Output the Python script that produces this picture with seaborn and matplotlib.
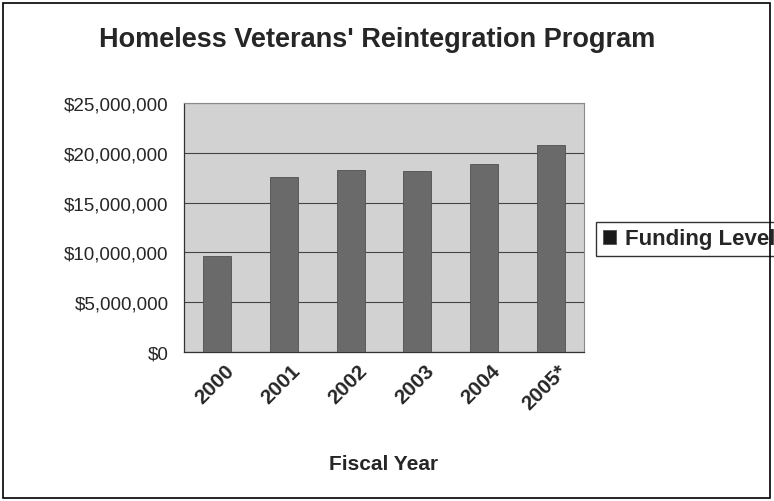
import numpy as np
import pandas as pd
import matplotlib
matplotlib.use("Agg")
import matplotlib.pyplot as plt
import matplotlib.ticker as mticker
import matplotlib.transforms as mtransforms
from matplotlib.patches import Rectangle
import seaborn as sns

sns.set_style("white")
plt.rcParams['font.family'] = ['Liberation Sans', 'DejaVu Sans']

# data
years = ['2000', '2001', '2002', '2003', '2004', '2005*']
funding = [9600000, 17600000, 18300000, 18200000, 18900000, 20800000]
df = pd.DataFrame({'year': years, 'funding': funding})

fig = plt.figure(figsize=(7.74, 5.02), dpi=100)
ax = fig.add_axes([184/774, 1-353/502, 400/774, 249/502])

sns.barplot(data=df, x='year', y='funding', color='#6a6a6a', width=0.42,
            saturation=1, edgecolor='#505050', linewidth=0.6, ax=ax,
            label='Funding Level', zorder=3)

ax.set_facecolor('#d2d2d2')
ax.set_ylim(0, 25000000)
ax.set_xlim(-0.5, len(years) - 0.5)
ax.yaxis.set_major_locator(mticker.MultipleLocator(5000000))
ax.yaxis.set_major_formatter(mticker.FuncFormatter(lambda v, p: '${:,.0f}'.format(v)))
ax.grid(axis='y', color='#444444', linewidth=0.8, zorder=1)
ax.set_axisbelow(True)

for s in ['top', 'right']:
    ax.spines[s].set_color('#8a8a8a')
    ax.spines[s].set_linewidth(0.8)
for s in ['left', 'bottom']:
    ax.spines[s].set_color('#333333')
    ax.spines[s].set_linewidth(0.9)

ax.tick_params(axis='y', which='major', direction='out', length=5, width=0.8,
               color='#333333', labelsize=13.5, pad=6)
# category ticks sit between bars, like the original
ax.set_xticks(np.arange(len(years)))
ax.set_xticklabels(years, rotation=45, ha='right', rotation_mode='anchor',
                   fontsize=15, fontweight='bold')
ax.tick_params(axis='x', which='major', length=0, pad=6)
shift = mtransforms.ScaledTranslation(7/100, 0, fig.dpi_scale_trans)
for lab in ax.get_xticklabels():
    lab.set_transform(lab.get_transform() + shift)
ax.set_xticks(np.arange(-0.5, len(years), 1), minor=True)
ax.tick_params(axis='x', which='minor', direction='out', length=5, width=0.8,
               color='#333333')

ax.set_xlabel('Fiscal Year', fontsize=15, fontweight='bold', labelpad=30)
ax.set_ylabel('')
fig.text(377/774, 1-40/502, "Homeless Veterans' Reintegration Program",
         ha='center', va='center', fontsize=19.5, fontweight='bold')

leg = ax.legend(loc='center left', bbox_to_anchor=(596/774, 1-240/502),
                bbox_transform=fig.transFigure, frameon=True, fancybox=False,
                handlelength=0.6, handleheight=0.6, handletextpad=0.4,
                borderpad=0.3, borderaxespad=0, prop={'size': 16, 'weight': 'bold'})
leg.get_frame().set_edgecolor('black')
leg.get_frame().set_linewidth(1.0)
for h in leg.legend_handles:
    h.set_facecolor('#1a1a1a')

fig.patches.append(Rectangle((3/774, 3/502), 767/774, 495/502,
                             transform=fig.transFigure, fill=False,
                             edgecolor='black', linewidth=1.2))

fig.savefig('out.png', dpi=100)
